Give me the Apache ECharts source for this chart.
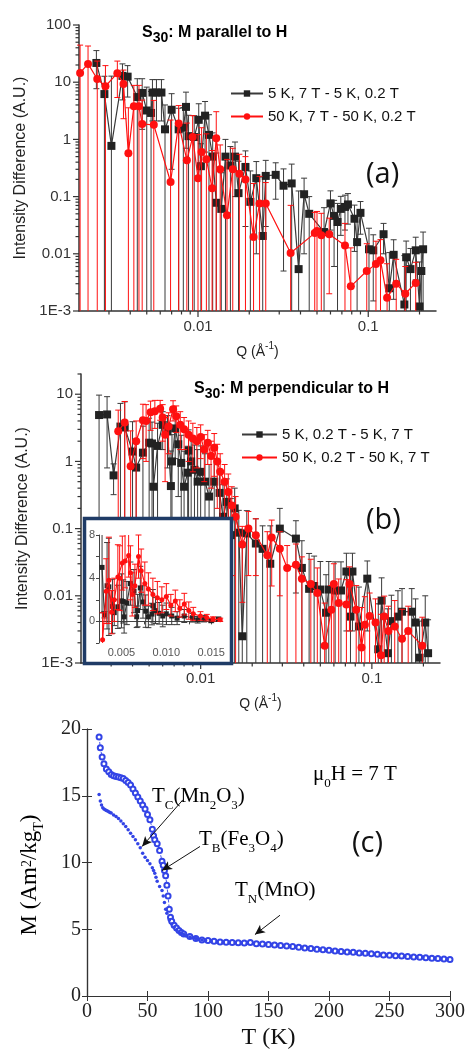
<!DOCTYPE html>
<html><head><meta charset="utf-8">
<script src="https://cdn.jsdelivr.net/npm/echarts@6/dist/echarts.min.js"></script>
<style>html,body{margin:0;padding:0;background:#fff}#c{width:466px;height:1053px}</style>
</head><body><div id="c"></div>
<script>
// ---------------- DATA ----------------
// Panel (a): [Q, intensity difference, error]
const aBlack = [[0.00253,21.7,14],[0.00282,6.2,6.5],[0.0031,0.77,12],[0.0036,12.9,8],[0.00386,12.5,7],[0.0044,5.5,6],[0.0047,6.5,5],[0.0050,3.2,5],[0.0053,2.9,4],[0.0054,6.6,4.5],[0.0057,6.6,4.5],[0.0061,6.6,4.5],[0.0064,1.5,2.5],[0.0070,3.3,3],[0.0077,1.5,2],[0.0082,1.6,2],[0.0085,3.7,3],[0.0088,1.14,1.5],[0.0095,1.1,1.5],[0.0101,2.2,2],[0.0104,0.34,0.5],[0.0110,2.6,2],[0.0116,1.2,1.5],[0.0122,0.5,0.8],[0.0128,0.078,0.5],[0.0137,0.061,0.2],[0.0145,0.5,0.5],[0.0155,0.35,0.4],[0.0165,0.5,0.4],[0.0173,0.115,0.3],[0.0190,0.33,0.3],[0.0203,0.081,0.2],[0.0220,0.21,0.2],[0.0240,0.0205,0.2],[0.0250,0.23,0.2],[0.0286,0.24,0.15],[0.0318,0.155,0.15],[0.0355,0.17,0.2],[0.0390,0.0054,0.12],[0.0420,0.11,0.1],[0.0450,0.05,0.05],[0.0550,0.024,0.04],[0.0600,0.076,0.05],[0.0630,0.046,0.04],[0.0660,0.036,0.04],[0.0690,0.061,0.04],[0.0730,0.066,0.04],[0.0760,0.073,0.04],[0.0830,0.041,0.03],[0.0860,0.016,0.03],[0.0900,0.052,0.03],[0.1010,0.012,0.016],[0.1070,0.0115,0.01],[0.1230,0.022,0.012],[0.1330,0.0025,0.008],[0.1410,0.0096,0.008],[0.1630,0.0013,0.008],[0.1670,0.0087,0.008],[0.1770,0.0054,0.007],[0.1900,0.0115,0.008],[0.2000,0.0012,0.006],[0.2050,0.005,0.008],[0.2100,0.012,0.012]];
const aRed = [[0.00203,14.5,30],[0.00226,20.9,22],[0.00256,11.4,12],[0.00286,8.5,11],[0.00336,14.4,9],[0.00365,9.3,7],[0.0039,0.57,3],[0.0042,3.8,5],[0.0045,3.8,5],[0.0047,1.86,3],[0.0055,1.8,3],[0.0069,0.18,2],[0.0077,1.9,2],[0.0086,0.43,1.5],[0.0093,1.1,1.5],[0.0100,0.21,1],[0.0105,0.6,1],[0.0112,0.45,0.8],[0.0121,0.14,0.5],[0.0128,1.05,2],[0.0135,0.3,0.5],[0.0148,0.047,0.4],[0.0160,0.3,0.4],[0.0175,0.25,0.3],[0.0190,0.2,0.3],[0.0212,0.0196,0.15],[0.0230,0.076,0.15],[0.0250,0.076,0.1],[0.0350,0.0103,0.06],[0.0485,0.023,0.03],[0.0500,0.025,0.03],[0.0530,0.021,0.03],[0.0590,0.022,0.02],[0.0730,0.014,0.02],[0.0790,0.0027,0.01],[0.0980,0.005,0.01],[0.1110,0.0066,0.01],[0.1180,0.0077,0.01],[0.1290,0.0017,0.005],[0.1460,0.003,0.005],[0.1650,0.002,0.004],[0.1900,0.0031,0.004]];
// Panel (b)
const bBlack = [[0.00255,4.9,4.8],[0.00284,5.0,4.2],[0.0031,0.62,0.3],[0.0034,3.3,4],[0.0036,3.2,4.5],[0.0040,1.4,2.5],[0.0042,0.81,1.2],[0.0046,1.35,2],[0.0050,1.9,2.5],[0.0052,1.85,2],[0.0053,0.42,1.5],[0.0056,1.7,2],[0.0060,3.5,2],[0.0064,2.8,2],[0.0067,0.43,1],[0.0068,1.0,1.5],[0.0071,3.1,2],[0.0074,1.8,1.5],[0.0077,0.95,1.5],[0.0080,0.42,1],[0.0084,0.68,1],[0.0085,1.45,1.5],[0.0088,1.0,1.2],[0.0092,0.75,1],[0.0096,0.5,1],[0.0100,0.7,1],[0.0106,0.5,0.8],[0.0112,0.3,0.6],[0.0120,0.5,0.6],[0.0129,0.34,0.4],[0.0135,0.15,0.3],[0.0142,0.25,0.3],[0.0150,0.08,0.2],[0.0158,0.2,0.2],[0.0167,0.087,0.1],[0.0175,0.0025,0.05],[0.0186,0.085,0.1],[0.0210,0.06,0.08],[0.0230,0.05,0.06],[0.0255,0.03,0.08],[0.0290,0.1,0.1],[0.0360,0.071,0.06],[0.0390,0.026,0.04],[0.0430,0.0127,0.03],[0.0460,0.014,0.025],[0.0500,0.0124,0.02],[0.0540,0.0056,0.015],[0.0560,0.0124,0.02],[0.0610,0.012,0.02],[0.0660,0.012,0.02],[0.0710,0.023,0.02],[0.0750,0.0049,0.015],[0.0770,0.023,0.02],[0.0840,0.0035,0.01],[0.0940,0.018,0.015],[0.1090,0.0016,0.006],[0.1140,0.0085,0.01],[0.1240,0.0014,0.005],[0.1300,0.0042,0.006],[0.1420,0.0049,0.007],[0.1500,0.0058,0.007],[0.1710,0.0058,0.007],[0.1800,0.004,0.005],[0.1900,0.0012,0.003],[0.2050,0.004,0.006],[0.2130,0.0014,0.003]];
const bRed = [[0.0029,-1.7,2.5],[0.0033,2.8,3],[0.0036,3.8,4],[0.0039,0.85,2],[0.0042,2.0,2],[0.0046,4.1,3],[0.0048,4.0,3],[0.0051,5.4,2.5],[0.0054,5.6,2.5],[0.0058,6.1,2],[0.0060,4.5,2.5],[0.0062,2.5,2],[0.0065,3.3,2],[0.0069,6.0,2],[0.0072,4.7,2],[0.0076,3.5,2],[0.0080,3.0,1.5],[0.0085,2.5,1.5],[0.0090,2.2,1.5],[0.0095,2.0,1.2],[0.0100,2.3,1.2],[0.0105,1.5,1],[0.0110,1.9,1],[0.0115,1.2,0.8],[0.0120,1.6,1],[0.0125,1.0,0.8],[0.0130,0.7,0.6],[0.0138,0.5,0.4],[0.0145,0.35,0.3],[0.0152,0.22,0.2],[0.0160,0.15,0.15],[0.0175,0.058,0.05],[0.0190,0.1,0.08],[0.0210,0.08,0.06],[0.0245,0.04,0.05],[0.0260,0.074,0.06],[0.0290,0.05,0.04],[0.0320,0.026,0.03],[0.0360,0.029,0.03],[0.0390,0.018,0.02],[0.0440,0.015,0.02],[0.0480,0.011,0.015],[0.0530,0.0018,0.006],[0.0580,0.0062,0.008],[0.0600,0.015,0.015],[0.0640,0.0078,0.01],[0.0710,0.0074,0.01],[0.0740,0.015,0.012],[0.0810,0.0062,0.008],[0.0870,0.0017,0.005],[0.0910,0.0037,0.006],[0.0970,0.005,0.006],[0.1050,0.004,0.005],[0.1130,0.0013,0.004],[0.1180,0.0049,0.005],[0.1250,0.003,0.004],[0.1360,0.0035,0.005],[0.1500,0.0023,0.004],[0.1630,0.003,0.004],[0.1970,0.0018,0.003]];
// Panel (c): T (K), M
const cTOpen = [10,11,12.5,14,16,18,20,22,24,26,28,30,32,34,36,38,40,42,44,46,48,50,52,54,55,56,58,60,62,63,64,65,66,67,68,69,70,72,74,76,78,80,85,90,95,100,105,110,115,120,125,130,135,140,145,150,155,160,165,170,175,180,185,190,195,200,205,210,215,220,225,230,235,240,245,250,255,260,265,270,275,280,285,290,295,300];
const cMOpen = [19.4,18.6,17.9,17.4,17.0,16.8,16.6,16.5,16.45,16.4,16.35,16.3,16.15,16.0,15.8,15.5,15.2,14.9,14.6,14.3,14.0,13.6,13.2,12.5,12.0,11.7,11.4,10.9,10.1,9.8,9.4,9.0,8.3,7.5,6.5,5.9,5.6,5.3,5.1,4.9,4.75,4.65,4.45,4.3,4.2,4.15,4.1,4.05,4.02,4.0,3.98,3.97,4.0,3.92,3.9,3.86,3.82,3.78,3.74,3.7,3.66,3.6,3.55,3.5,3.46,3.42,3.38,3.34,3.3,3.27,3.23,3.2,3.16,3.12,3.08,3.05,3.02,2.99,2.96,2.93,2.9,2.86,2.83,2.8,2.77,2.73];
const cTFill = [10,11,12,13,14,15,16,17,18,19,20,22,24,26,28,30,32,34,36,38,40,42,44,46,48,50,52,54,55,56,57,58,60,62,63,64,65,66,68,70,72,74,76,78,80,82,85,88,90,92,95,98,102.5,107.5,112.5,117.5,122.5,127.5,132.5,137.5,142.5,147.5,152.5,157.5,162.5,167.5,172.5,177.5,182.5,187.5,192.5,197.5,202.5,207.5,212.5,217.5,222.5,227.5,232.5,237.5,242.5,247.5,252.5,257.5,262.5,267.5,272.5,277.5,282.5,287.5,292.5,297.5];
const cMFill = [15.1,14.6,14.3,14.1,14.0,13.95,13.9,13.85,13.8,13.75,13.7,13.55,13.45,13.3,13.1,12.9,12.7,12.45,12.2,11.95,11.7,11.4,11.1,10.7,10.4,10.15,9.9,9.6,9.4,9.2,8.9,8.6,8.2,7.9,7.5,7.0,6.5,6.2,5.7,5.4,5.15,4.95,4.8,4.7,4.6,4.5,4.42,4.35,4.3,4.25,4.2,4.15,4.1,4.05,4.02,4.0,3.98,3.97,3.95,3.93,3.9,3.87,3.84,3.8,3.76,3.72,3.68,3.63,3.58,3.53,3.48,3.44,3.4,3.36,3.32,3.28,3.25,3.21,3.18,3.14,3.1,3.07,3.04,3.0,2.97,2.94,2.91,2.88,2.84,2.81,2.78,2.75];
// Tick values
const qMajorTicks = [0.01, 0.1];
const qMinorTicks = [0.003,0.004,0.005,0.006,0.007,0.008,0.009,0.02,0.03,0.04,0.05,0.06,0.07,0.08,0.09,0.2];
const aYMajorTicks = [0.001,0.01,0.1,1,10,100];
const bYMajorTicks = [0.001,0.01,0.1,1,10];
const decadeMultipliers = [2,3,4,5,6,7,8,9];
const aYMinorTicks = [0.001,0.01,0.1,1,10].flatMap(d => decadeMultipliers.map(m => +(d*m).toPrecision(3)));
const bYMinorTicks = [0.001,0.01,0.1,1].flatMap(d => decadeMultipliers.map(m => +(d*m).toPrecision(3))).concat([20]);

// ---------------- HELPERS ----------------
const SANS = "'Liberation Sans', Arial, sans-serif";
const SERIF = "'Liberation Serif', 'Times New Roman', serif";
const AXC = '#333';
const BLK = '#222', BLKLINE = '#3a3a3a', RED = '#ff1010';
const BLUE = '#3344e6';

function logFmt(v) {
  const e = Math.round(Math.log10(v));
  if (e <= -3) return '1E' + e;
  return e < 0 ? Math.pow(10, e).toFixed(-e) : String(Math.round(Math.pow(10, e)));
}

function errSeries(data, ax, color, z, isLog) {
  return {
    type: 'custom', xAxisIndex: ax, yAxisIndex: ax, silent: true, z: z, clip: false,
    data: data.map(d => [d[0], d[1], d[2]]),
    encode: { x: 0, y: 1 },
    renderItem: function (params, api) {
      const cs = params.coordSys;
      const q = api.value(0), v = api.value(1), e = api.value(2);
      const top = cs.y, bot = cs.y + cs.height;
      const pc = api.coord([q, v]);
      const x = pc[0];
      if (!(x >= cs.x - 1 && x <= cs.x + cs.width + 1)) return null;
      let yHi = api.coord([q, v + e])[1], capHi = true;
      if (!(yHi >= top)) { yHi = top; capHi = false; }
      const lo = v - e;
      let yLo, capLo = true;
      if (isLog && !(lo > 0)) { yLo = bot; capLo = false; }
      else { yLo = api.coord([q, lo])[1]; if (!(yLo <= bot)) { yLo = bot; capLo = false; } }
      const st = { stroke: color, lineWidth: 1 };
      const ch = [{ type: 'line', shape: { x1: x, y1: yHi, x2: x, y2: yLo }, style: st }];
      const cw = 3;
      if (capHi) ch.push({ type: 'line', shape: { x1: x - cw, y1: yHi, x2: x + cw, y2: yHi }, style: st });
      if (capLo) ch.push({ type: 'line', shape: { x1: x - cw, y1: yLo, x2: x + cw, y2: yLo }, style: st });
      return { type: 'group', children: ch };
    }
  };
}

function ptSeries(name, data, ax, color, lineColor, symbol, size, z, filter) {
  return {
    name: name, type: 'line', xAxisIndex: ax, yAxisIndex: ax, z: z,
    data: data.filter(filter).map(d => [d[0], d[1]]),
    symbol: symbol, symbolSize: size, showSymbol: true,
    itemStyle: { color: color, borderWidth: 0 },
    lineStyle: { color: lineColor, width: 1.2 },
    emphasis: { disabled: true }, silent: true
  };
}

function tickSeries(ax, xMin, yMin, xMaj, xMinr, yMaj, yMinr) {
  const data = [];
  xMaj.forEach(v => data.push([v, yMin, 0]));
  xMinr.forEach(v => data.push([v, yMin, 1]));
  yMaj.forEach(v => data.push([xMin, v, 2]));
  yMinr.forEach(v => data.push([xMin, v, 3]));
  return {
    type: 'custom', xAxisIndex: ax, yAxisIndex: ax, silent: true, clip: false, z: 1,
    data: data, encode: { x: 0, y: 1 },
    renderItem: function (params, api) {
      const p = api.coord([api.value(0), api.value(1)]);
      const k = api.value(2);
      const len = (k === 0 || k === 2) ? 6 : 3.5;
      const shape = k < 2 ? { x1: p[0], y1: p[1], x2: p[0], y2: p[1] + len }
                          : { x1: p[0], y1: p[1], x2: p[0] - len, y2: p[1] };
      return { type: 'line', shape: shape, style: { stroke: AXC, lineWidth: 1.2 } };
    }
  };
}

const logLabel = { color: '#333', fontSize: 15, fontFamily: SANS, margin: 8, formatter: logFmt, interval: 0 };
const qName = { fontSize: 14, fontFamily: SANS, color: '#222',
  rich: { n: { fontSize: 14, fontFamily: SANS, color: '#222', verticalAlign: 'bottom', lineHeight: 18 },
          sup: { fontSize: 10, fontFamily: SANS, color: '#222', verticalAlign: 'top', lineHeight: 18 } } };
const yName = { fontSize: 16, fontFamily: SANS, color: '#222' };

function logX(grid) {
  return { type: 'log', logBase: 10, gridIndex: grid, min: 0.002, max: 0.25,
    axisLine: { show: true, lineStyle: { color: AXC, width: 1.5 } },
    axisTick: { show: false }, splitLine: { show: false }, minorTick: { show: false },
    axisLabel: Object.assign({}, logLabel, { showMinLabel: false, showMaxLabel: false }),
    name: '{n|Q (Å}{sup|-1}{n|)}', nameLocation: 'middle', nameGap: 30, nameTextStyle: qName };
}
function logY(grid, max, showMax) {
  return { type: 'log', logBase: 10, gridIndex: grid, min: 0.001, max: max,
    axisLine: { show: true, lineStyle: { color: AXC, width: 1.5 } },
    axisTick: { show: false }, splitLine: { show: false }, minorTick: { show: false },
    axisLabel: Object.assign({}, logLabel, { showMinLabel: true, showMaxLabel: showMax }),
    name: 'Intensity Difference (A.U.)', nameLocation: 'middle', nameGap: 50, nameTextStyle: yName };
}

const legendA = ['5 K, 7 T - 5 K, 0.2 T', '50 K, 7 T - 50 K, 0.2 T'];
const legendB = ['5 K, 0.2 T - 5 K, 7 T', '50 K, 0.2 T - 50 K, 7 T'];

const pos = d => d[1] > 0;
const inInset = d => d[0] >= 0.0026 && d[0] <= 0.0161;

const titleRich = {
  b: { fontSize: 16, fontWeight: 'bold', fontFamily: SANS, color: '#111', verticalAlign: 'bottom', padding: [0, 0, 4, 0], lineHeight: 20 },
  s: { fontSize: 14, fontWeight: 'bold', fontFamily: SANS, color: '#111', verticalAlign: 'bottom', lineHeight: 16 }
};
const serifRich = {
  m: { fontSize: 21, fontFamily: SERIF, color: '#111', verticalAlign: 'bottom', padding: [0, 0, 5, 0], lineHeight: 24 },
  s: { fontSize: 13, fontFamily: SERIF, color: '#111', verticalAlign: 'bottom', lineHeight: 16 },
  sup: { fontSize: 13, fontFamily: SERIF, color: '#111', verticalAlign: 'top', lineHeight: 16 }
};

const serifLabel = { color: '#222', fontSize: 20, fontFamily: SERIF, margin: 6 };
const legendText = { fontSize: 15, fontFamily: SANS, color: '#111' };

const option = {
  animation: false,
  backgroundColor: '#fff',
  grid: [
    { left: 79, top: 25, width: 357, height: 286, containLabel: false, outerBoundsMode: 'none' },
    { left: 81, top: 374, width: 359, height: 289, containLabel: false, outerBoundsMode: 'none' },
    { left: 99, top: 535, width: 123, height: 108, containLabel: false, outerBoundsMode: 'none' },
    { left: 87, top: 729, width: 363, height: 267, containLabel: false, outerBoundsMode: 'none' }
  ],
  legend: [
    { data: legendA, left: 225, top: 81, orient: 'vertical', itemWidth: 32, itemHeight: 8, itemGap: 8,
      textStyle: legendText, selectedMode: false },
    { data: legendB, left: 236, top: 422, orient: 'vertical', itemWidth: 35, itemHeight: 8, itemGap: 8,
      textStyle: legendText, selectedMode: false }
  ],
  xAxis: [
    logX(0),
    logX(1),
    { type: 'value', gridIndex: 2, min: 0.0025, max: 0.0162, interval: 0.0025, z: 12,
      axisLine: { lineStyle: { color: '#444', width: 1 } }, splitLine: { show: false },
      axisTick: { show: true, length: 3, lineStyle: { color: '#444' } },
      axisLabel: { color: '#555', fontSize: 11, fontFamily: SANS, margin: 4, interval: 0, showMaxLabel: false,
        formatter: v => { const r = v / 0.005; return Math.abs(r - Math.round(r)) < 1e-6 && Math.round(r) > 0 ? v.toFixed(3) : ''; } } },
    { type: 'value', gridIndex: 3, min: 0, max: 300, interval: 50, position: 'bottom',
      axisLine: { lineStyle: { color: AXC, width: 1.2 } }, splitLine: { show: false },
      axisTick: { inside: true, length: 5, lineStyle: { color: AXC } }, axisLabel: serifLabel,
      name: 'T (K)', nameLocation: 'middle', nameGap: 30, nameTextStyle: { fontSize: 24, fontFamily: SERIF, color: '#111' } },
    { type: 'value', gridIndex: 3, min: 0, max: 300, interval: 50, position: 'top',
      axisLine: { lineStyle: { color: AXC, width: 1.2 } }, splitLine: { show: false },
      axisTick: { inside: true, length: 5, lineStyle: { color: AXC } }, axisLabel: { show: false } }
  ],
  yAxis: [
    logY(0, 100, true),
    logY(1, 20, false),
    { type: 'value', gridIndex: 2, min: -2, max: 8, interval: 2, z: 12,
      axisLine: { show: true, lineStyle: { color: '#444', width: 1 } }, splitLine: { show: false },
      axisTick: { show: true, length: 3, lineStyle: { color: '#444' } },
      axisLabel: { color: '#555', fontSize: 11, fontFamily: SANS, margin: 4, interval: 0,
        formatter: v => (Math.round(v) % 4 === 0 && v >= 0) ? String(Math.round(v)) : '' } },
    { type: 'value', gridIndex: 3, min: 0, max: 20, interval: 5, position: 'left',
      axisLine: { show: true, lineStyle: { color: AXC, width: 1.2 } }, splitLine: { show: false },
      axisTick: { inside: true, length: 5, lineStyle: { color: AXC } }, axisLabel: serifLabel },
    { type: 'value', gridIndex: 3, min: 0, max: 20, interval: 5, position: 'right',
      axisLine: { show: true, lineStyle: { color: AXC, width: 1.2 } }, splitLine: { show: false },
      axisTick: { inside: true, length: 5, lineStyle: { color: AXC } }, axisLabel: { show: false } }
  ],
  graphic: [
    { type: 'text', left: 142, top: 25, z: 20, style: { text: '{b|S}{s|30}{b|: M parallel to H}', rich: titleRich } },
    { type: 'text', left: 194, top: 381, z: 20, style: { text: '{b|S}{s|30}{b|: M perpendicular to H}', rich: titleRich } },
    { type: 'text', left: 366, top: 160, z: 20, style: { text: '(a)', fontSize: 29, fontFamily: "'Open Sans', sans-serif", fill: '#111' } },
    { type: 'text', left: 366, top: 506, z: 20, style: { text: '(b)', fontSize: 29, fontFamily: "'Open Sans', sans-serif", fill: '#111' } },
    { type: 'text', left: 352, top: 829, z: 20, style: { text: '(c)', fontSize: 29, fontFamily: "'Open Sans', sans-serif", fill: '#111' } },
    { type: 'rect', z: 10, shape: { x: 84.5, y: 518.5, width: 147, height: 145 },
      style: { fill: '#fff', stroke: '#1f3b66', lineWidth: 3.5 } },
    { type: 'text', left: 152, top: 786, z: 20, style: { text: '{m|T}{s|C}{m|(Mn}{s|2}{m|O}{s|3}{m|)}', rich: serifRich } },
    { type: 'text', left: 199, top: 829, z: 20, style: { text: '{m|T}{s|B}{m|(Fe}{s|3}{m|O}{s|4}{m|)}', rich: serifRich } },
    { type: 'text', left: 235, top: 880, z: 20, style: { text: '{m|T}{s|N}{m|(MnO)}', rich: serifRich } },
    { type: 'text', left: 313, top: 764, z: 20, style: { text: '{m|μ}{s|0}{m|H = 7 T}', rich: serifRich } },
    { type: 'text', x: 33, y: 875, rotation: Math.PI / 2, z: 20,
      style: { text: '{M|M (Am}{sup|2}{M|/kg}{s|T}{M|)}', align: 'center', verticalAlign: 'middle',
        rich: Object.assign({}, serifRich, { M: { fontSize: 23, fontFamily: SERIF, color: '#111', verticalAlign: 'bottom', padding: [0, 0, 5, 0], lineHeight: 26 },
          s: { fontSize: 14, fontFamily: SERIF, color: '#111', verticalAlign: 'bottom', lineHeight: 16 },
          sup: { fontSize: 14, fontFamily: SERIF, color: '#111', verticalAlign: 'top', lineHeight: 16 } }) } }
  ],
  series: [
    tickSeries(0, 0.002, 0.001, qMajorTicks, qMinorTicks, aYMajorTicks, aYMinorTicks),
    tickSeries(1, 0.002, 0.001, qMajorTicks, qMinorTicks, bYMajorTicks, bYMinorTicks),
    errSeries(aBlack.filter(pos), 0, BLKLINE, 2, true),
    ptSeries(legendA[0], aBlack, 0, BLK, BLKLINE, 'rect', 8, 3, pos),
    errSeries(aRed.filter(pos), 0, RED, 4, true),
    ptSeries(legendA[1], aRed, 0, RED, RED, 'circle', 8, 5, pos),
    errSeries(bBlack.filter(pos), 1, BLKLINE, 2, true),
    ptSeries(legendB[0], bBlack, 1, BLK, BLKLINE, 'rect', 8, 3, pos),
    errSeries(bRed.filter(pos), 1, RED, 4, true),
    ptSeries(legendB[1], bRed, 1, RED, RED, 'circle', 8, 5, pos),
    errSeries(bBlack.filter(inInset), 2, BLKLINE, 21, false),
    ptSeries('inset black', bBlack, 2, BLK, BLKLINE, 'rect', 5, 22, inInset),
    errSeries(bRed.filter(inInset), 2, RED, 23, false),
    ptSeries('inset red', bRed, 2, RED, RED, 'circle', 5, 24, inInset),
    { type: 'line', xAxisIndex: 3, yAxisIndex: 3, data: cTOpen.map((t, i) => [t, cMOpen[i]]),
      symbol: 'emptyCircle', symbolSize: 5, itemStyle: { color: BLUE, borderWidth: 0.9 },
      lineStyle: { color: BLUE, width: 0.9, type: [3, 2] }, silent: true,
      markLine: { silent: true, symbol: ['none', 'arrow'], symbolSize: [7, 10], animation: false,
        lineStyle: { color: '#111', width: 1, type: 'solid' }, label: { show: false },
        data: [
          [{ coord: [79.3, 14.7] }, { coord: [45.5, 11.2] }],
          [{ coord: [93.4, 11.2] }, { coord: [62, 9.4] }],
          [{ coord: [159.5, 6.05] }, { coord: [138.8, 4.6] }]
        ] } },
    { type: 'line', xAxisIndex: 3, yAxisIndex: 3, data: cTFill.map((t, i) => [t, cMFill[i]]),
      symbol: 'circle', symbolSize: 3.5, itemStyle: { color: BLUE },
      lineStyle: { width: 0, opacity: 0 }, silent: true }
  ]
};

const chart = echarts.init(document.getElementById('c'), null, { renderer: 'canvas', width: 466, height: 1053 });
chart.setOption(option);
</script>
</body></html>
